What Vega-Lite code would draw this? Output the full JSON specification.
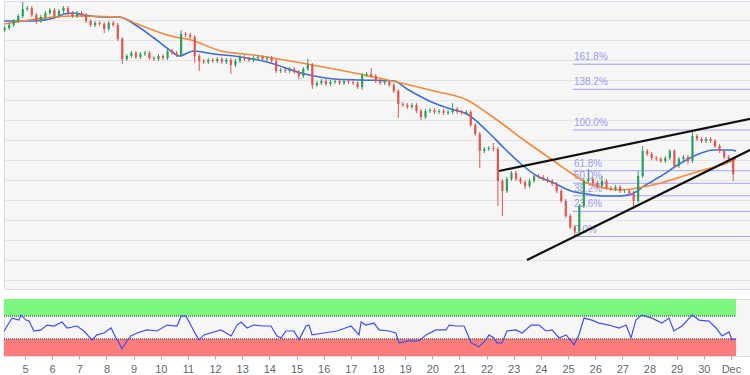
{
"$schema": "https://vega.github.io/schema/vega-lite/v6.json",
"padding": 0,
"background": "#ffffff",
"spacing": 8,
"config": {
  "view": {"stroke": "#d9ddee", "fill": "#f6f6f6"},
  "font": "Liberation Sans"
},
"datasets": {
  "candles": [
{"t":4.25,"o":270,"c":272,"h":274,"l":268},{"t":4.417,"o":272,"c":275,"h":277,"l":270},{"t":4.583,"o":275,"c":279,"h":281,"l":273},{"t":4.75,"o":279,"c":284,"h":286,"l":277},{"t":4.917,"o":284,"c":291,"h":298,"l":282},{"t":5.083,"o":291,"c":292,"h":294,"l":289},
{"t":5.25,"o":292,"c":285,"h":294,"l":283},{"t":5.417,"o":285,"c":279,"h":287,"l":276},{"t":5.583,"o":279,"c":283,"h":285,"l":277},{"t":5.75,"o":283,"c":287,"h":289,"l":281},{"t":5.917,"o":287,"c":290,"h":292,"l":285},{"t":6.083,"o":290,"c":284,"h":292,"l":282},
{"t":6.25,"o":284,"c":289,"h":291,"l":282},{"t":6.417,"o":289,"c":292,"h":294,"l":287},{"t":6.583,"o":292,"c":287,"h":294,"l":285},{"t":6.75,"o":287,"c":284,"h":289,"l":282},{"t":6.917,"o":284,"c":287,"h":289,"l":282},{"t":7.083,"o":287,"c":285,"h":289,"l":283},
{"t":7.25,"o":285,"c":279,"h":287,"l":277},{"t":7.417,"o":279,"c":275,"h":281,"l":273},{"t":7.583,"o":275,"c":277,"h":279,"l":273},{"t":7.75,"o":277,"c":276,"h":279,"l":274},{"t":7.917,"o":276,"c":271,"h":278,"l":267},{"t":8.083,"o":271,"c":277,"h":279,"l":269},
{"t":8.25,"o":277,"c":275,"h":279,"l":273},{"t":8.417,"o":275,"c":261,"h":277,"l":259},{"t":8.583,"o":261,"c":241,"h":263,"l":236},{"t":8.75,"o":241,"c":244,"h":246,"l":239},{"t":8.917,"o":244,"c":247,"h":249,"l":242},{"t":9.083,"o":247,"c":243,"h":249,"l":241},
{"t":9.25,"o":243,"c":246,"h":248,"l":241},{"t":9.417,"o":246,"c":247,"h":249,"l":244},{"t":9.583,"o":247,"c":242,"h":249,"l":240},{"t":9.75,"o":242,"c":241,"h":244,"l":239},{"t":9.917,"o":241,"c":244,"h":246,"l":239},{"t":10.083,"o":244,"c":242,"h":246,"l":240},
{"t":10.25,"o":242,"c":249,"h":251,"l":240},{"t":10.417,"o":249,"c":247,"h":251,"l":245},{"t":10.583,"o":247,"c":245,"h":249,"l":243},{"t":10.75,"o":245,"c":266,"h":270,"l":243},{"t":10.917,"o":266,"c":265,"h":268,"l":263},{"t":11.083,"o":265,"c":263,"h":267,"l":261},
{"t":11.25,"o":263,"c":244,"h":265,"l":237},{"t":11.417,"o":244,"c":239,"h":246,"l":229},{"t":11.583,"o":239,"c":238,"h":241,"l":236},{"t":11.75,"o":238,"c":240,"h":242,"l":236},{"t":11.917,"o":240,"c":239,"h":242,"l":237},{"t":12.083,"o":239,"c":241,"h":243,"l":237},
{"t":12.25,"o":241,"c":238,"h":243,"l":236},{"t":12.417,"o":238,"c":240,"h":242,"l":236},{"t":12.583,"o":240,"c":235,"h":242,"l":226},{"t":12.75,"o":235,"c":239,"h":241,"l":233},{"t":12.917,"o":239,"c":243,"h":245,"l":237},{"t":13.083,"o":243,"c":241,"h":245,"l":239},
{"t":13.25,"o":241,"c":240,"h":243,"l":238},{"t":13.417,"o":240,"c":242,"h":244,"l":238},{"t":13.583,"o":242,"c":243,"h":245,"l":240},{"t":13.75,"o":243,"c":241,"h":245,"l":239},{"t":13.917,"o":241,"c":242,"h":244,"l":239},{"t":14.083,"o":242,"c":239,"h":244,"l":237},
{"t":14.25,"o":239,"c":229,"h":241,"l":227},{"t":14.417,"o":229,"c":230,"h":232,"l":227},{"t":14.583,"o":230,"c":229,"h":232,"l":227},{"t":14.75,"o":229,"c":231,"h":233,"l":227},{"t":14.917,"o":231,"c":228,"h":233,"l":226},{"t":15.083,"o":228,"c":224,"h":230,"l":221},
{"t":15.25,"o":224,"c":231,"h":233,"l":222},{"t":15.417,"o":231,"c":235,"h":241,"l":229},{"t":15.583,"o":235,"c":215,"h":237,"l":211},{"t":15.75,"o":215,"c":217,"h":219,"l":213},{"t":15.917,"o":217,"c":219,"h":221,"l":215},{"t":16.083,"o":219,"c":216,"h":221,"l":214},
{"t":16.25,"o":216,"c":218,"h":220,"l":214},{"t":16.417,"o":218,"c":219,"h":221,"l":216},{"t":16.583,"o":219,"c":217,"h":221,"l":215},{"t":16.75,"o":217,"c":219,"h":221,"l":215},{"t":16.917,"o":219,"c":218,"h":221,"l":216},{"t":17.083,"o":218,"c":217,"h":220,"l":215},
{"t":17.25,"o":217,"c":213,"h":219,"l":211},{"t":17.417,"o":213,"c":225,"h":227,"l":210},{"t":17.583,"o":225,"c":226,"h":228,"l":223},{"t":17.75,"o":226,"c":224,"h":232,"l":222},{"t":17.917,"o":224,"c":219,"h":226,"l":217},{"t":18.083,"o":219,"c":217,"h":221,"l":215},
{"t":18.25,"o":217,"c":218,"h":220,"l":215},{"t":18.417,"o":218,"c":215,"h":220,"l":213},{"t":18.583,"o":215,"c":209,"h":217,"l":207},{"t":18.75,"o":209,"c":196,"h":211,"l":182},{"t":18.917,"o":196,"c":195,"h":198,"l":193},{"t":19.083,"o":195,"c":193,"h":197,"l":191},
{"t":19.25,"o":193,"c":195,"h":197,"l":191},{"t":19.417,"o":195,"c":189,"h":197,"l":187},{"t":19.583,"o":189,"c":183,"h":191,"l":180},{"t":19.75,"o":183,"c":189,"h":191,"l":181},{"t":19.917,"o":189,"c":190,"h":192,"l":187},{"t":20.083,"o":190,"c":188,"h":192,"l":186},
{"t":20.25,"o":188,"c":189,"h":191,"l":186},{"t":20.417,"o":189,"c":187,"h":191,"l":185},{"t":20.583,"o":187,"c":188,"h":190,"l":185},{"t":20.75,"o":188,"c":191,"h":197,"l":186},{"t":20.917,"o":191,"c":188,"h":193,"l":186},{"t":21.083,"o":188,"c":187,"h":190,"l":185},
{"t":21.25,"o":187,"c":188,"h":190,"l":185},{"t":21.417,"o":188,"c":175,"h":190,"l":173},{"t":21.583,"o":175,"c":166,"h":177,"l":164},{"t":21.75,"o":166,"c":149,"h":168,"l":132},{"t":21.917,"o":149,"c":151,"h":153,"l":147},{"t":22.083,"o":151,"c":152,"h":154,"l":149},
{"t":22.25,"o":152,"c":151,"h":157,"l":149},{"t":22.417,"o":151,"c":119,"h":153,"l":94},{"t":22.583,"o":119,"c":109,"h":121,"l":84},{"t":22.75,"o":109,"c":121,"h":123,"l":107},{"t":22.917,"o":121,"c":127,"h":129,"l":119},{"t":23.083,"o":127,"c":121,"h":129,"l":119},
{"t":23.25,"o":121,"c":118,"h":123,"l":116},{"t":23.417,"o":118,"c":114,"h":120,"l":111},{"t":23.583,"o":114,"c":119,"h":121,"l":112},{"t":23.75,"o":119,"c":124,"h":126,"l":117},{"t":23.917,"o":124,"c":123,"h":126,"l":121},{"t":24.083,"o":123,"c":121,"h":125,"l":119},
{"t":24.25,"o":121,"c":119,"h":123,"l":117},{"t":24.417,"o":119,"c":116,"h":121,"l":114},{"t":24.583,"o":116,"c":109,"h":118,"l":107},{"t":24.75,"o":109,"c":99,"h":111,"l":97},{"t":24.917,"o":99,"c":84,"h":101,"l":82},{"t":25.083,"o":84,"c":73,"h":86,"l":71},
{"t":25.25,"o":73,"c":69,"h":75,"l":64},{"t":25.417,"o":69,"c":94,"h":96,"l":67},{"t":25.583,"o":94,"c":119,"h":121,"l":92},{"t":25.75,"o":119,"c":121,"h":131,"l":117},{"t":25.917,"o":121,"c":117,"h":123,"l":115},{"t":26.083,"o":117,"c":114,"h":119,"l":112},
{"t":26.25,"o":114,"c":119,"h":124,"l":112},{"t":26.417,"o":119,"c":112,"h":121,"l":110},{"t":26.583,"o":112,"c":111,"h":114,"l":109},{"t":26.75,"o":111,"c":113,"h":115,"l":109},{"t":26.917,"o":113,"c":109,"h":115,"l":107},{"t":27.083,"o":109,"c":109,"h":111,"l":107},
{"t":27.25,"o":109,"c":107,"h":111,"l":105},{"t":27.417,"o":107,"c":99,"h":109,"l":91},{"t":27.583,"o":99,"c":124,"h":129,"l":97},{"t":27.75,"o":124,"c":149,"h":154,"l":122},{"t":27.917,"o":149,"c":146,"h":151,"l":144},{"t":28.083,"o":146,"c":142,"h":148,"l":140},
{"t":28.25,"o":142,"c":141,"h":144,"l":139},{"t":28.417,"o":141,"c":139,"h":143,"l":137},{"t":28.583,"o":139,"c":142,"h":144,"l":137},{"t":28.75,"o":142,"c":149,"h":151,"l":140},{"t":28.917,"o":149,"c":134,"h":151,"l":132},{"t":29.083,"o":134,"c":141,"h":143,"l":132},
{"t":29.25,"o":141,"c":143,"h":145,"l":139},{"t":29.417,"o":143,"c":139,"h":145,"l":136},{"t":29.583,"o":139,"c":164,"h":169,"l":137},{"t":29.75,"o":164,"c":161,"h":166,"l":159},{"t":29.917,"o":161,"c":159,"h":163,"l":157},{"t":30.083,"o":159,"c":161,"h":163,"l":157},
{"t":30.25,"o":161,"c":159,"h":163,"l":157},{"t":30.417,"o":159,"c":154,"h":161,"l":152},{"t":30.583,"o":154,"c":149,"h":156,"l":147},{"t":30.75,"o":149,"c":143,"h":151,"l":141},{"t":30.917,"o":143,"c":141,"h":145,"l":139},{"t":31.083,"o":141,"c":126,"h":143,"l":119}
  ],
  "ma": [
{"ma":"fast","t":4.23,"v":279},{"ma":"fast","t":5.33,"v":279},{"ma":"fast","t":6.07,"v":282},{"ma":"fast","t":6.44,"v":286},{"ma":"fast","t":6.8,"v":287},{"ma":"fast","t":7.17,"v":285},{"ma":"fast","t":7.91,"v":283},{"ma":"fast","t":8.46,"v":283},{"ma":"fast","t":9.13,"v":274},{"ma":"fast","t":9.75,"v":262},{"ma":"fast","t":10.38,"v":249},{"ma":"fast","t":10.67,"v":244},{"ma":"fast","t":11.22,"v":249},{"ma":"fast","t":11.96,"v":246},{"ma":"fast","t":12.7,"v":244},{"ma":"fast","t":13.91,"v":238},{"ma":"fast","t":15.17,"v":227},{"ma":"fast","t":16.38,"v":221},{"ma":"fast","t":17.38,"v":220},{"ma":"fast","t":18.59,"v":219},{"ma":"fast","t":19.07,"v":211},{"ma":"fast","t":20.06,"v":197},{"ma":"fast","t":20.69,"v":191},{"ma":"fast","t":21.28,"v":186},{"ma":"fast","t":22.02,"v":169},{"ma":"fast","t":22.64,"v":152},{"ma":"fast","t":23.27,"v":136},{"ma":"fast","t":23.86,"v":124},{"ma":"fast","t":24.48,"v":117},{"ma":"fast","t":25.11,"v":109},{"ma":"fast","t":25.7,"v":106},{"ma":"fast","t":26.33,"v":104},{"ma":"fast","t":26.95,"v":104},{"ma":"fast","t":27.43,"v":107},{"ma":"fast","t":27.8,"v":114},{"ma":"fast","t":28.43,"v":124},{"ma":"fast","t":29.16,"v":137},{"ma":"fast","t":29.64,"v":144},{"ma":"fast","t":30.38,"v":150},{"ma":"fast","t":31.0,"v":150},{"ma":"fast","t":31.19,"v":149},
{"ma":"slow","t":4.23,"v":276},{"ma":"slow","t":5.44,"v":281},{"ma":"slow","t":6.69,"v":284},{"ma":"slow","t":8.46,"v":283},{"ma":"slow","t":9.13,"v":276},{"ma":"slow","t":10.38,"v":264},{"ma":"slow","t":11.11,"v":260},{"ma":"slow","t":12.22,"v":249},{"ma":"slow","t":13.43,"v":245},{"ma":"slow","t":13.91,"v":243},{"ma":"slow","t":15.39,"v":236},{"ma":"slow","t":16.38,"v":231},{"ma":"slow","t":17.85,"v":223},{"ma":"slow","t":18.85,"v":217},{"ma":"slow","t":20.06,"v":209},{"ma":"slow","t":21.28,"v":200},{"ma":"slow","t":22.02,"v":187},{"ma":"slow","t":22.64,"v":175},{"ma":"slow","t":23.27,"v":162},{"ma":"slow","t":24.48,"v":139},{"ma":"slow","t":25.11,"v":127},{"ma":"slow","t":25.7,"v":117},{"ma":"slow","t":26.33,"v":112},{"ma":"slow","t":26.95,"v":110},{"ma":"slow","t":27.55,"v":112},{"ma":"slow","t":28.43,"v":117},{"ma":"slow","t":29.38,"v":125},{"ma":"slow","t":30.12,"v":131},{"ma":"slow","t":30.86,"v":137},{"ma":"slow","t":31.19,"v":141}
  ],
  "fib": [
{"label":"0.0%","v":63.5,"t0":25.18},{"label":"23.6%","v":88.6,"t0":25.18},{"label":"38.2%","v":104.2,"t0":25.18},{"label":"50.0%","v":116.75,"t0":25.18},{"label":"61.8%","v":129.3,"t0":25.18},{"label":"100.0%","v":170,"t0":25.18},{"label":"138.2%","v":210.7,"t0":25.18},{"label":"161.8%","v":235.8,"t0":25.18}
  ],
  "trend": [
{"line":"upper","t":22.46,"v":129},{"line":"upper","t":31.85,"v":182},{"line":"lower","t":23.49,"v":40},{"line":"lower","t":31.85,"v":152}
  ],
  "rsi": [
{"t":4.23,"r":43.9},{"t":4.41,"r":57.8},{"t":4.52,"r":66.5},{"t":4.78,"r":63},{"t":4.85,"r":71.7},{"t":5.04,"r":63},{"t":5.15,"r":61.3},{"t":5.33,"r":43.9},{"t":5.59,"r":45.7},{"t":5.81,"r":54.3},{"t":6.07,"r":52.6},{"t":6.36,"r":59.6},{"t":6.55,"r":49.1},{"t":6.91,"r":52.6},{"t":7.17,"r":43.9},{"t":7.47,"r":28.3},{"t":7.65,"r":37},{"t":7.91,"r":40.4},{"t":8.17,"r":49.1},{"t":8.35,"r":31.7},{"t":8.46,"r":23},{"t":8.57,"r":12.6},{"t":8.76,"r":26.5},{"t":8.9,"r":35.2},{"t":9.13,"r":40.4},{"t":9.49,"r":45.7},{"t":9.86,"r":43.9},{"t":10.23,"r":54.3},{"t":10.6,"r":52.6},{"t":10.75,"r":70},{"t":10.93,"r":70},{"t":11.3,"r":37},{"t":11.41,"r":28.3},{"t":11.59,"r":37},{"t":12.22,"r":45.7},{"t":12.59,"r":35.2},{"t":12.81,"r":54.3},{"t":12.96,"r":59.6},{"t":13.18,"r":49.1},{"t":13.43,"r":54.3},{"t":13.8,"r":52.6},{"t":14.06,"r":52.6},{"t":14.28,"r":35.2},{"t":14.43,"r":31.7},{"t":14.61,"r":43.9},{"t":14.91,"r":43.9},{"t":15.09,"r":28.3},{"t":15.35,"r":52.6},{"t":15.46,"r":54.3},{"t":15.57,"r":37},{"t":16.01,"r":40.4},{"t":16.49,"r":43.9},{"t":17.01,"r":52.6},{"t":17.3,"r":37},{"t":17.38,"r":59.6},{"t":17.56,"r":54.3},{"t":17.85,"r":57.8},{"t":18.04,"r":45.7},{"t":18.41,"r":43.9},{"t":18.66,"r":40.4},{"t":18.77,"r":23},{"t":19.14,"r":26.5},{"t":19.51,"r":26.5},{"t":19.77,"r":37},{"t":20.14,"r":45.7},{"t":20.51,"r":45.7},{"t":20.62,"r":54.3},{"t":20.87,"r":52.6},{"t":21.17,"r":52.6},{"t":21.28,"r":40.4},{"t":21.43,"r":23},{"t":21.72,"r":16.1},{"t":21.98,"r":28.3},{"t":22.09,"r":37},{"t":22.27,"r":31.7},{"t":22.38,"r":23},{"t":22.57,"r":23},{"t":22.75,"r":43.9},{"t":23.08,"r":45.7},{"t":23.31,"r":40.4},{"t":23.64,"r":54.3},{"t":23.93,"r":54.3},{"t":24.19,"r":43.9},{"t":24.41,"r":45.7},{"t":24.67,"r":31.7},{"t":24.93,"r":37},{"t":25.11,"r":26.5},{"t":25.22,"r":19.6},{"t":25.4,"r":37},{"t":25.59,"r":66.5},{"t":25.88,"r":63},{"t":26.14,"r":57.8},{"t":26.51,"r":54.3},{"t":26.88,"r":49.1},{"t":27.14,"r":54.3},{"t":27.32,"r":31.7},{"t":27.5,"r":63},{"t":27.72,"r":71.7},{"t":28.09,"r":66.5},{"t":28.46,"r":57.8},{"t":28.72,"r":66.5},{"t":28.9,"r":43.9},{"t":29.2,"r":52.6},{"t":29.57,"r":71.7},{"t":29.83,"r":63},{"t":30.19,"r":61.3},{"t":30.45,"r":49.1},{"t":30.67,"r":35.2},{"t":30.93,"r":42.2},{"t":31.04,"r":28.3},{"t":31.19,"r":30}
  ],
  "zones": [
{"zone":"overbought","lo":70,"hi":100},{"zone":"oversold","lo":0,"hi":30}
  ]
},
"vconcat": [
  {
    "width": 750,
    "height": 288,
    "layer": [
      {
        "mark": {"type": "rule", "color": "#e6e6e6", "strokeWidth": 2},
        "encoding": {"x": {"datum": 31, "type": "quantitative", "scale": {"domain": [4.2265, 31.85], "nice": false, "zero": false}, "axis": null}}
      },
      {
        "data": {"name": "fib"},
        "mark": {"type": "rule", "color": "#a3a3f5", "strokeWidth": 1},
        "encoding": {
          "x": {"field": "t0", "type": "quantitative"},
          "x2": {"datum": 31.85},
          "y": {"field": "v", "type": "quantitative", "scale": {"domain": [11, 299], "nice": false, "zero": false},
                "axis": {"values": [20,40,60,80,100,120,140,160,180,200,220,240,260,280], "tickCount": 40, "labels": false, "ticks": false, "domain": false, "title": null, "gridColor": "#e4e4e4"}}
        }
      },
      {
        "mark": {"type": "rule", "color": "#8b94ad", "strokeWidth": 2},
        "encoding": {"y": {"datum": 127, "type": "quantitative"}}
      },
      {
        "data": {"name": "fib"},
        "mark": {"type": "text", "align": "left", "baseline": "bottom", "dx": 1, "dy": -2, "fontSize": 10, "color": "#9a9af0"},
        "encoding": {
          "x": {"field": "t0", "type": "quantitative"},
          "y": {"field": "v", "type": "quantitative"},
          "text": {"field": "label"}
        }
      },
      {
        "data": {"name": "ma"},
        "mark": {"type": "line", "strokeWidth": 1.6, "interpolate": "monotone"},
        "encoding": {
          "x": {"field": "t", "type": "quantitative"},
          "y": {"field": "v", "type": "quantitative"},
          "color": {"field": "ma", "type": "nominal", "scale": {"domain": ["fast", "slow"], "range": ["#3b6fd6", "#f28a3a"]}, "legend": null}
        }
      },
      {
        "data": {"name": "candles"},
        "mark": {"type": "rule", "strokeWidth": 1},
        "encoding": {
          "x": {"field": "t", "type": "quantitative"},
          "y": {"field": "l", "type": "quantitative"},
          "y2": {"field": "h"},
          "color": {"condition": {"test": "datum.c >= datum.o", "value": "#2f9e5e"}, "value": "#e0574f"}
        }
      },
      {
        "data": {"name": "candles"},
        "mark": {"type": "rule", "strokeWidth": 2.2},
        "encoding": {
          "x": {"field": "t", "type": "quantitative"},
          "y": {"field": "o", "type": "quantitative"},
          "y2": {"field": "c"},
          "color": {"condition": {"test": "datum.c >= datum.o", "value": "#2f9e5e"}, "value": "#e0574f"}
        }
      },
      {
        "data": {"name": "trend"},
        "mark": {"type": "line", "color": "#111111", "strokeWidth": 2.2},
        "encoding": {
          "x": {"field": "t", "type": "quantitative"},
          "y": {"field": "v", "type": "quantitative"},
          "detail": {"field": "line"}
        }
      }
    ]
  },
  {
    "width": 750,
    "height": 57,
    "layer": [
      {
        "data": {"name": "zones"},
        "mark": {"type": "rect"},
        "encoding": {
          "x": {"datum": 4.2265, "type": "quantitative", "scale": {"domain": [4.2265, 31.85], "nice": false, "zero": false},
                "axis": {"values": [5,6,7,8,9,10,11,12,13,14,15,16,17,18,19,20,21,22,23,24,25,26,27,28,29,30,31], "tickCount": 60, "format": "d", "labelExpr": "datum.value == 31 ? 'Dec' : datum.label", "labelOverlap": false, "labelBound": false, "title": null, "grid": false, "domain": false, "tickSize": 3, "tickColor": "#aaaaaa", "labelFontSize": 11, "labelColor": "#666666", "labelPadding": 4}},
          "x2": {"datum": 31.19},
          "y": {"field": "lo", "type": "quantitative", "scale": {"domain": [0, 100], "nice": false}, "axis": null},
          "y2": {"field": "hi"},
          "color": {"condition": {"test": "datum.lo >= 70", "value": "#7df77d"}, "value": "#ff7c7c"}
        }
      },
      {
        "mark": {"type": "rule", "color": "#e6e6e6", "strokeWidth": 2},
        "encoding": {"x": {"datum": 31, "type": "quantitative"}}
      },
      {
        "data": {"name": "zones"},
        "mark": {"type": "rule", "color": "#333333", "strokeWidth": 1, "strokeDash": [1, 1]},
        "encoding": {
          "x": {"datum": 4.2265, "type": "quantitative"},
          "x2": {"datum": 31.19},
          "y": {"field": "lo", "type": "quantitative"}
        },
        "transform": [{"filter": "datum.lo > 0"}]
      },
      {
        "data": {"name": "zones"},
        "mark": {"type": "rule", "color": "#333333", "strokeWidth": 1, "strokeDash": [1, 1]},
        "encoding": {
          "x": {"datum": 4.2265, "type": "quantitative"},
          "x2": {"datum": 31.19},
          "y": {"field": "hi", "type": "quantitative"}
        },
        "transform": [{"filter": "datum.hi < 100"}]
      },
      {
        "data": {"name": "rsi"},
        "mark": {"type": "line", "color": "#4050f0", "strokeWidth": 1.2},
        "encoding": {
          "x": {"field": "t", "type": "quantitative"},
          "y": {"field": "r", "type": "quantitative"}
        }
      }
    ]
  }
]
}
